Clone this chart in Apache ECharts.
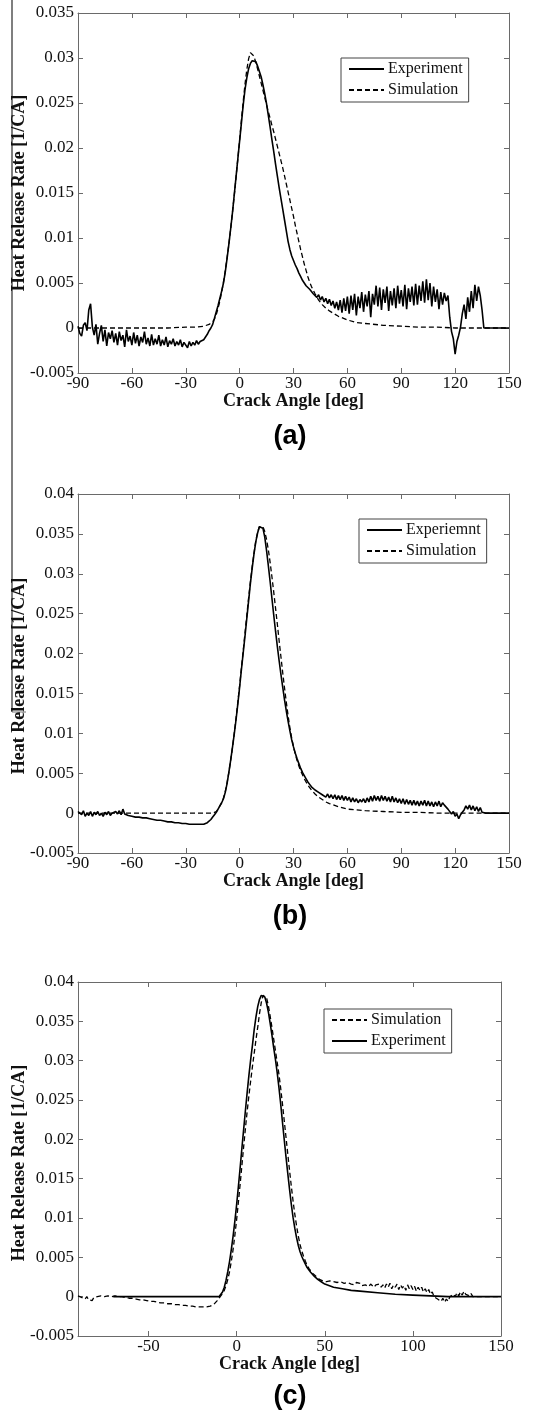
<!DOCTYPE html>
<html>
<head>
<meta charset="utf-8">
<script src="https://cdn.jsdelivr.net/npm/echarts@6/dist/echarts.min.js"></script>
<style>
html,body{margin:0;padding:0;background:#fff;}
#chart{width:549px;height:1417px;}
</style>
</head>
<body>
<div id="chart"></div>
<script>
// ---------------- DATA ----------------
// Experiment curves sampled every 1 deg starting at -90 deg
const angleStart = -90;
const xTicksAB = [-90, -60, -30, 0, 30, 60, 90, 120, 150];
const xTicksC = [-50, 0, 50, 100, 150];
const xTitle = 'Crack Angle [deg]';
const yTitle = 'Heat Release Rate [1/CA]';
const panelLabels = ['(a)', '(b)', '(c)'];

// Panel (a)
const aExperiment = [
 0.0002,-0.0006,-0.0009,0.0003,0.0006,-0.0003,0.0020,0.0027,0.0001,-0.0008,
 0.0004,-0.0018,-0.0006,0.0003,-0.0015,-0.0002,-0.0020,-0.0005,-0.0012,-0.0003,
 -0.0016,-0.0006,-0.0019,-0.0004,-0.0014,-0.0008,-0.0021,-0.0002,-0.0015,-0.0009,
 -0.0019,-0.0005,-0.0017,-0.0008,-0.0020,-0.0010,-0.0016,-0.0004,-0.0018,-0.0011,
 -0.0020,-0.0007,-0.0019,-0.0012,-0.0018,-0.0008,-0.0020,-0.0013,-0.0019,-0.0010,
 -0.0021,-0.0014,-0.0018,-0.0012,-0.0020,-0.0015,-0.0019,-0.0013,-0.0021,-0.0016,
 -0.0018,-0.0022,-0.0015,-0.0020,-0.0016,-0.0019,-0.0014,-0.0018,-0.0015,-0.0017,
 -0.0013,-0.0011,-0.0007,-0.0003,0.0000,0.0004,0.0011,0.0018,0.0025,0.0033,
 0.0041,0.0050,0.0062,0.0077,0.0093,0.0110,0.0128,0.0148,0.0168,0.0188,
 0.0208,0.0228,0.0248,0.0265,0.0278,0.0288,0.0294,0.0297,0.0298,0.0296,
 0.0291,0.0285,0.0279,0.0270,0.0260,0.0249,0.0236,0.0223,0.0209,0.0196,
 0.0182,0.0169,0.0156,0.0144,0.0132,0.0120,0.0108,0.0096,0.0087,0.0080,
 0.0075,0.0070,0.0066,0.0061,0.0057,0.0053,0.0050,0.0047,0.0045,0.0043,
 0.0041,0.0038,0.0040,0.0034,0.0037,0.0031,0.0035,0.0029,0.0033,0.0027,
 0.0032,0.0025,0.0030,0.0022,0.0029,0.0020,0.0031,0.0017,0.0033,0.0019,
 0.0035,0.0016,0.0036,0.0020,0.0038,0.0014,0.0035,0.0022,0.0040,0.0018,
 0.0037,0.0024,0.0041,0.0012,0.0038,0.0026,0.0047,0.0024,0.0045,0.0020,
 0.0043,0.0028,0.0046,0.0019,0.0041,0.0025,0.0044,0.0022,0.0047,0.0027,
 0.0042,0.0024,0.0048,0.0021,0.0044,0.0029,0.0046,0.0025,0.0049,0.0026,
 0.0047,0.0030,0.0052,0.0028,0.0054,0.0031,0.0050,0.0024,0.0046,0.0029,
 0.0043,0.0021,0.0040,0.0026,0.0039,0.0030,0.0036,0.0012,-0.0004,-0.0012,
 -0.0029,-0.0015,-0.0008,0.0001,0.0016,0.0026,0.0010,0.0034,0.0018,0.0041,
 0.0022,0.0048,0.0030,0.0046,0.0036,0.0020,0,0,0,0,
 0,0,0,0,0,0,0,0,0,0,0
];
const aSimAngle = [-90,-60,-40,-30,-25,-20,-17,-15,-14,-13,-12,-11,-10,-9,-8,-7,-6,-5,-4,-3,-2,-1,
 0,1,2,3,4,5,6,7,8,9,10,11,12,13,14,15,16,17,18,19,20,21,22,23,24,25,26,27,28,29,
 30,31,32,33,34,35,36,37,38,39,40,42,44,46,48,50,55,60,65,70,80,90,100,110,120,135,150];
const aSimulation = [0,0,0,0.0001,0.0001,0.0002,0.0004,0.0007,0.0010,0.0015,0.0022,0.0030,0.0040,0.0051,0.0064,0.0078,0.0093,0.0110,0.0128,0.0147,0.0167,0.0188,
 0.0209,0.0231,0.0252,0.0271,0.0287,0.0299,0.0306,0.0307,0.0302,0.0295,0.0288,0.0280,0.0272,0.0264,0.0256,0.0248,0.0240,0.0233,0.0225,0.0218,0.0210,0.0202,0.0194,0.0186,0.0178,0.0169,0.0160,0.0151,0.0142,0.0133,
 0.0124,0.0114,0.0105,0.0096,0.0087,0.0079,0.0071,0.0064,0.0057,0.0051,0.0046,0.0038,0.0031,0.0026,0.0022,0.0019,0.0013,0.0009,0.0006,0.0005,0.0003,0.0002,0.0001,0.0001,0,0,0];

// Panel (b)
const bExperiment = [
 0.0002,0.0001,-0.0002,0.0003,-0.0004,0.0000,-0.0003,0.0002,-0.0004,0.0001,
 -0.0002,0.0002,-0.0003,0.0000,-0.0004,0.0001,-0.0002,0.0002,-0.0003,0.0000,
 -0.0002,0.0002,-0.0001,0.0003,-0.0002,0.0005,-0.0001,0.0001,-0.0003,-0.0001,
 -0.0004,-0.0002,-0.0005,-0.0003,-0.0005,-0.0004,-0.0006,-0.0005,-0.0006,-0.0005,
 -0.0007,-0.0006,-0.0008,-0.0007,-0.0009,-0.0008,-0.0009,-0.0009,-0.0010,-0.0009,
 -0.0011,-0.0010,-0.0011,-0.0011,-0.0012,-0.0011,-0.0012,-0.0012,-0.0013,-0.0012,
 -0.0013,-0.0013,-0.0014,-0.0013,-0.0014,-0.0014,-0.0014,-0.0015,-0.0014,-0.0015,
 -0.0014,-0.0014,-0.0012,-0.0010,-0.0008,-0.0005,-0.0002,0.0001,0.0005,0.0009,
 0.0013,0.0018,0.0026,0.0037,0.0051,0.0066,0.0082,0.0099,0.0117,0.0137,
 0.0158,0.0180,0.0201,0.0222,0.0244,0.0266,0.0288,0.0307,0.0325,0.0340,
 0.0351,0.0359,0.0361,0.0357,0.0346,0.0329,0.0310,0.0290,0.0269,0.0248,
 0.0228,0.0209,0.0191,0.0174,0.0158,0.0142,0.0128,0.0115,0.0103,0.0092,
 0.0083,0.0075,0.0068,0.0062,0.0056,0.0051,0.0047,0.0043,0.0039,0.0036,
 0.0033,0.0031,0.0029,0.0027,0.0026,0.0025,0.0023,0.0025,0.0020,0.0024,
 0.0019,0.0023,0.0018,0.0023,0.0017,0.0022,0.0017,0.0022,0.0016,0.0021,
 0.0016,0.0020,0.0014,0.0019,0.0014,0.0018,0.0013,0.0017,0.0014,0.0018,
 0.0013,0.0019,0.0014,0.0021,0.0015,0.0022,0.0016,0.0021,0.0015,0.0022,
 0.0016,0.0021,0.0015,0.0020,0.0014,0.0021,0.0014,0.0019,0.0013,0.0018,
 0.0012,0.0018,0.0011,0.0017,0.0011,0.0016,0.0010,0.0016,0.0010,0.0015,
 0.0009,0.0015,0.0010,0.0016,0.0009,0.0015,0.0009,0.0014,0.0008,0.0014,
 0.0009,0.0015,0.0008,0.0013,0.0010,0.0011,0.0005,0.0006,-0.0001,0.0002,
 -0.0004,-0.0001,-0.0007,-0.0002,0.0001,0.0004,0.0009,0.0005,0.0010,0.0004,
 0.0009,0.0003,0.0008,0.0002,0.0007,0.0001,0,0,0,0,
 0,0,0,0,0,0,0,0,0,0,0
];
const bSimAngle = aSimAngle;
const bSimulation = [0,0,0,0,0,0,0,0,0.0001,0.0002,0.0005,0.0009,0.0013,0.0019,0.0027,0.0038,0.0051,0.0066,0.0082,0.0100,0.0119,0.0139,
 0.0160,0.0182,0.0204,0.0226,0.0248,0.0270,0.0290,0.0309,0.0326,0.0341,0.0352,0.0359,0.0361,0.0359,0.0353,0.0343,0.0330,0.0314,0.0296,0.0277,0.0257,0.0237,0.0216,0.0196,0.0176,0.0157,0.0139,0.0122,0.0107,0.0094,
 0.0083,0.0074,0.0066,0.0059,0.0053,0.0048,0.0043,0.0039,0.0035,0.0032,0.0029,0.0024,0.0020,0.0017,0.0014,0.0012,0.0008,0.0005,0.0004,0.0003,0.0002,0.0001,0.0001,0,0,0,0];

// Panel (c)
const cSimulation = [
 0.0001,0.0002,-0.0001,0.0001,-0.0003,0.0000,-0.0004,-0.0002,-0.0005,-0.0001,
 -0.0003,0.0000,-0.0002,0.0001,-0.0001,0.0000,-0.0002,0.0001,-0.0001,0.0000,
 -0.0001,0.0001,-0.0001,0.0000,-0.0002,0.0000,-0.0002,-0.0001,-0.0003,-0.0002,
 -0.0003,-0.0002,-0.0004,-0.0003,-0.0004,-0.0004,-0.0005,-0.0004,-0.0006,-0.0005,
 -0.0006,-0.0006,-0.0007,-0.0006,-0.0008,-0.0007,-0.0008,-0.0008,-0.0009,-0.0008,
 -0.0009,-0.0009,-0.0010,-0.0009,-0.0010,-0.0010,-0.0011,-0.0010,-0.0011,-0.0011,
 -0.0012,-0.0011,-0.0012,-0.0012,-0.0013,-0.0012,-0.0013,-0.0013,-0.0014,-0.0013,
 -0.0014,-0.0013,-0.0014,-0.0013,-0.0013,-0.0012,-0.0011,-0.0010,-0.0008,-0.0005,
 -0.0002,0.0001,0.0004,0.0008,0.0014,0.0022,0.0032,0.0045,0.0060,0.0078,
 0.0098,0.0120,0.0143,0.0167,0.0191,0.0214,0.0236,0.0256,0.0275,0.0293,
 0.0310,0.0327,0.0343,0.0360,0.0374,0.0383,0.0385,0.0380,0.0370,0.0357,
 0.0343,0.0328,0.0313,0.0298,0.0283,0.0265,0.0245,0.0224,0.0203,0.0182,
 0.0161,0.0141,0.0122,0.0105,0.0090,0.0077,0.0066,0.0058,0.0051,0.0045,
 0.0040,0.0036,0.0033,0.0030,0.0028,0.0026,0.0024,0.0022,0.0021,0.0020,
 0.0021,0.0019,0.0021,0.0020,0.0022,0.0019,0.0021,0.0018,0.0020,0.0019,
 0.0021,0.0017,0.0019,0.0018,0.0020,0.0016,0.0018,0.0015,0.0018,0.0016,
 0.0017,0.0014,0.0016,0.0015,0.0017,0.0013,0.0016,0.0014,0.0012,0.0015,
 0.0013,0.0016,0.0012,0.0015,0.0011,0.0016,0.0012,0.0017,0.0010,0.0015,
 0.0012,0.0016,0.0009,0.0015,0.0011,0.0014,0.0008,0.0015,0.0010,0.0014,
 0.0009,0.0013,0.0007,0.0012,0.0008,0.0012,0.0006,0.0010,0.0005,0.0009,
 0.0003,0.0006,0.0000,0.0002,-0.0003,-0.0001,-0.0006,-0.0002,-0.0007,-0.0003,
 -0.0006,0.0000,-0.0002,0.0003,0.0000,0.0005,0.0001,0.0006,0.0002,0.0007,
 0.0003,0.0005,0.0001,0.0004,0.0000,0.0002,0,0,0,0,
 0,0,0,0,0,0,0,0,0,0,0
];
const cExpAngle = [-70,-40,-10,-9,-8,-7,-6,-5,-4,-3,-2,-1,0,1,2,3,4,5,6,7,8,9,10,11,12,13,14,15,16,17,18,19,
 20,21,22,23,24,25,26,27,28,29,30,31,32,33,34,35,36,37,38,40,42,44,46,48,50,55,60,65,70,80,90,100,110,120,150];
const cExperiment = [0,0,0,0.0002,0.0006,0.0012,0.0021,0.0032,0.0045,0.0060,0.0077,0.0096,0.0117,0.0140,0.0164,0.0189,0.0213,0.0237,0.0260,0.0282,0.0302,0.0320,0.0340,0.0356,0.0369,0.0378,0.0383,0.0384,0.0381,0.0373,0.0362,0.0348,
 0.0333,0.0317,0.0302,0.0285,0.0266,0.0245,0.0222,0.0200,0.0178,0.0157,0.0137,0.0118,0.0101,0.0087,0.0075,0.0065,0.0057,0.0051,0.0046,0.0037,0.0031,0.0026,0.0022,0.0019,0.0016,0.0012,0.0010,0.0008,0.0007,0.0005,0.0003,0.0002,0.0001,0,0];

// ---------------- CHART ----------------
const SERIF = 'Liberation Serif';
const AXIS_COLOR = '#6a6a6a';
const TEXT_COLOR = '#111';

const stepPairs = (arr) => arr.map((v, i) => [angleStart + i, v]);
const pairs = (xs, ys) => xs.map((x, i) => [x, ys[i]]);

const grids = [
  {left: 78, top: 13, width: 431, height: 360, outerBoundsMode: 'none', containLabel: false},
  {left: 78, top: 494, width: 431, height: 359, outerBoundsMode: 'none', containLabel: false},
  {left: 78, top: 982, width: 423, height: 354, outerBoundsMode: 'none', containLabel: false}
];
const yMax = [0.035, 0.04, 0.04];
const yTitleCenters = [193, 676, 1163];
const panelLabelY = [437, 917, 1397];

const xAxes = [], yAxes = [];
grids.forEach((g, gi) => {
  const isC = gi === 2;
  const base = {
    type: 'value', gridIndex: gi, min: -90, max: 150,
    axisLine: {show: true, onZero: false, lineStyle: {color: AXIS_COLOR, width: 1}},
    splitLine: {show: false}
  };
  const bottom = Object.assign({}, base, {
    position: 'bottom',
    name: xTitle, nameLocation: 'middle', nameGap: 19, nameMoveOverlap: false,
    nameTextStyle: {fontFamily: SERIF, fontWeight: 'bold', fontSize: 18, color: TEXT_COLOR},
    axisTick: {show: true, inside: true, length: 5, lineStyle: {color: AXIS_COLOR}},
    axisLabel: {show: true, margin: 2, fontFamily: SERIF, fontSize: 17, color: TEXT_COLOR,
      showMinLabel: true, showMaxLabel: true}
  });
  const top = Object.assign({}, base, {
    position: 'top',
    axisTick: {show: true, inside: true, length: 5, lineStyle: {color: AXIS_COLOR}},
    axisLabel: {show: false}
  });
  if (isC) {
    bottom.axisLabel.customValues = xTicksC;
    bottom.axisTick.customValues = xTicksC;
    top.axisTick.customValues = xTicksC;
  } else {
    bottom.interval = xTicksAB[1] - xTicksAB[0];
    top.interval = xTicksAB[1] - xTicksAB[0];
  }
  xAxes.push(bottom, top);

  const ybase = {
    type: 'value', gridIndex: gi, min: -0.005, max: yMax[gi], interval: 0.005,
    axisLine: {show: true, onZero: false, lineStyle: {color: AXIS_COLOR, width: 1}},
    splitLine: {show: false},
    axisTick: {show: true, inside: true, length: 5, lineStyle: {color: AXIS_COLOR}}
  };
  yAxes.push(Object.assign({}, ybase, {
    position: 'left',
    axisLabel: {show: true, margin: 4, fontFamily: SERIF, fontSize: 17, color: TEXT_COLOR,
      formatter: v => String(+v.toFixed(3))}
  }), Object.assign({}, ybase, {
    position: 'right', axisLabel: {show: false}
  }));
});

function lineSeries(name, data, gi, dashed) {
  return {
    type: 'line', name: name, data: data,
    xAxisIndex: gi * 2, yAxisIndex: gi * 2,
    symbol: 'none', showSymbol: false, silent: true, clip: true,
    lineStyle: {color: '#000', width: dashed ? 1.3 : 1.6, type: dashed ? [5, 3] : 'solid'},
    itemStyle: {color: '#000'}
  };
}

const series = [
  lineSeries('Experiment', stepPairs(aExperiment), 0, false),
  lineSeries('Simulation', pairs(aSimAngle, aSimulation), 0, true),
  lineSeries('Experiemnt', stepPairs(bExperiment), 1, false),
  lineSeries('Simulation', pairs(bSimAngle, bSimulation), 1, true),
  lineSeries('Simulation', stepPairs(cSimulation), 2, true),
  lineSeries('Experiment', pairs(cExpAngle, cExperiment), 2, false)
];

function legendAt(left, top, names) {
  return {
    show: true, orient: 'vertical', left: left, top: top, data: names,
    padding: [3, 6, 4, 7], itemGap: 5, itemWidth: 35, itemHeight: 18,
    borderColor: '#444', borderWidth: 1, backgroundColor: '#fff',
    selectedMode: false,
    itemStyle: {color: 'rgba(0,0,0,0)', borderColor: 'rgba(0,0,0,0)', borderWidth: 0},
    textStyle: {fontFamily: SERIF, fontSize: 16, color: TEXT_COLOR, padding: [0, 0, 0, -1]}
  };
}

const graphics = [
  {type: 'line', shape: {x1: 12, y1: 0, x2: 12, y2: 712}, style: {stroke: '#555', lineWidth: 1.5}},
  {type: 'line', shape: {x1: 12, y1: 712, x2: 26, y2: 712}, style: {stroke: '#777', lineWidth: 1}}
];
yTitleCenters.forEach((cy) => {
  graphics.push({type: 'text', x: 19, y: cy, rotation: Math.PI / 2,
    style: {text: yTitle, font: 'bold 18px "Liberation Serif"', fill: TEXT_COLOR, textAlign: 'center', textVerticalAlign: 'middle'}});
});
panelLabelY.forEach((py, i) => {
  graphics.push({type: 'text', x: 290, y: py,
    style: {text: panelLabels[i], font: 'bold 27px "Liberation Sans"', fill: '#000', textAlign: 'center', textVerticalAlign: 'middle'}});
});

const option = {
  animation: false,
  backgroundColor: '#fff',
  grid: grids,
  xAxis: xAxes,
  yAxis: yAxes,
  legend: [
    legendAt(341, 58, ['Experiment', 'Simulation']),
    legendAt(359, 519, ['Experiemnt', 'Simulation']),
    legendAt(324, 1009, ['Simulation', 'Experiment'])
  ],
  series: series,
  graphic: graphics
};

const chart = echarts.init(document.getElementById('chart'), null, {renderer: 'canvas', width: 549, height: 1417});
chart.setOption(option);
</script>
</body>
</html>
